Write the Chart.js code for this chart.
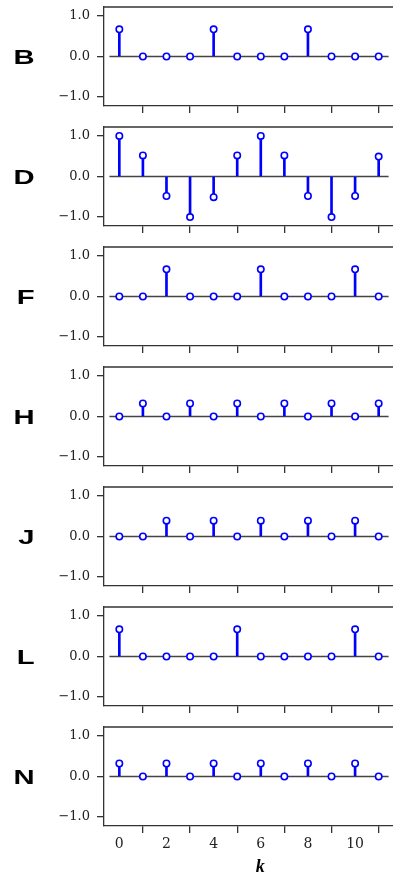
<!DOCTYPE html>
<html>
<head>
<meta charset="utf-8">
<script src="https://cdn.jsdelivr.net/npm/chart.js@4.4.1/dist/chart.umd.min.js"></script>
<style>
  html, body { margin: 0; padding: 0; background: #ffffff; overflow: hidden; }
  #fig { position: relative; width: 393px; height: 878px; overflow: hidden; background: #fff; }
  .panel { position: absolute; left: 0; width: 422px; }
</style>
</head>
<body>
<div id="fig"></div>
<script>
// ---- data ----
const kValues = [0, 1, 2, 3, 4, 5, 6, 7, 8, 9, 10, 11];
const panelLabels = ["B", "D", "F", "H", "J", "L", "N"];
const seriesB = [0.67, 0, 0, 0, 0.67, 0, 0, 0, 0.67, 0, 0, 0];
const seriesD = [1.0, 0.52, -0.48, -1.0, -0.51, 0.52, 1.0, 0.52, -0.48, -1.0, -0.48, 0.49];
const seriesF = [0, 0, 0.67, 0, 0, 0, 0.67, 0, 0, 0, 0.67, 0];
const seriesH = [0, 0.32, 0, 0.32, 0, 0.32, 0, 0.32, 0, 0.32, 0, 0.32];
const seriesJ = [0, 0, 0.39, 0, 0.39, 0, 0.39, 0, 0.39, 0, 0.39, 0];
const seriesL = [0.67, 0, 0, 0, 0, 0.67, 0, 0, 0, 0, 0.67, 0];
const seriesN = [0.32, 0, 0.32, 0, 0.32, 0, 0.32, 0, 0.32, 0, 0.32, 0];
const xTicks = [0, 2, 4, 6, 8, 10, 12];
const yTicks = [-1, 0, 1];
const baselineX = [-0.42, 11.42];
const xLabel = "k";

const allSeries = [seriesB, seriesD, seriesF, seriesH, seriesJ, seriesL, seriesN];

// ---- style ----
const STEM = "#0000ff";
const AXIS = "#333333";
const fig = document.getElementById("fig");

const framePlugin = {
  id: "frameAndLabel",
  afterDraw(chart, args, opts) {
    const ctx = chart.ctx;
    const a = chart.chartArea;
    ctx.save();
    ctx.strokeStyle = AXIS;
    ctx.lineWidth = 1.3;
    ctx.beginPath();
    ctx.moveTo(a.left - 0.65, a.top);
    ctx.lineTo(a.right, a.top);
    ctx.stroke();
    // panel letter
    const y0 = chart.scales.y.getPixelForValue(0);
    ctx.translate(34.5, y0 + 7);
    ctx.scale(1.5, 1);
    ctx.fillStyle = "#000";
    ctx.font = "bold 19.5px 'Liberation Sans', Arial, sans-serif";
    ctx.textAlign = "right";
    ctx.textBaseline = "alphabetic";
    ctx.fillText(opts.letter, 0, 0);
    ctx.restore();
  }
};

allSeries.forEach((vals, i) => {
  const isLast = i === allSeries.length - 1;
  const wrap = document.createElement("div");
  wrap.className = "panel";
  wrap.style.top = (120 * i) + "px";
  wrap.style.height = (isLast ? 158 : 120) + "px";
  const cv = document.createElement("canvas");
  wrap.appendChild(cv);
  fig.appendChild(wrap);

  const pts = kValues.map((k, j) => ({ x: k, y: vals[j] }));

  new Chart(cv, {
    type: "bar",
    data: {
      datasets: [
        {
          type: "scatter",
          data: pts,
          pointRadius: 3.2,
          pointBorderWidth: 1.6,
          pointBackgroundColor: "#ffffff",
          pointBorderColor: STEM,
          order: 0
        },
        {
          type: "bar",
          data: pts,
          backgroundColor: STEM,
          borderWidth: 0,
          barThickness: 2,
          order: 1
        },
        {
          type: "line",
          data: baselineX.map(x => ({ x: x, y: 0 })),
          borderColor: "#444444",
          borderWidth: 1.3,
          pointRadius: 0,
          order: 2
        }
      ]
    },
    plugins: [framePlugin],
    options: {
      responsive: true,
      maintainAspectRatio: false,
      animation: false,
      events: [],
      layout: { padding: { top: 7, left: 0, right: 0, bottom: 0 } },
      plugins: {
        legend: { display: false },
        tooltip: { enabled: false },
        frameAndLabel: { letter: panelLabels[i] }
      },
      scales: {
        x: {
          type: "linear",
          min: -0.65,
          max: 12.6,
          offset: false,
          afterBuildTicks: s => { s.ticks = xTicks.map(v => ({ value: v })); },
          afterFit: s => { s.height = isLast ? 52 : 14; s.paddingLeft = 0; s.paddingRight = 0; },
          grid: { display: true, drawOnChartArea: false, drawTicks: true, tickLength: 7, color: AXIS, lineWidth: 1.3 },
          border: { display: true, color: AXIS, width: 1.3 },
          ticks: {
            display: isLast,
            padding: 3,
            color: "#222",
            font: { family: "'DejaVu Serif', serif", size: 14 },
            maxRotation: 0,
            autoSkip: false,
            callback: v => String(v)
          },
          title: {
            display: isLast,
            text: xLabel,
            color: "#000",
            font: { family: "'Liberation Serif', serif", size: 18, style: "italic", weight: "bold" },
            padding: { top: 0, bottom: 0 }
          }
        },
        y: {
          min: -1.22,
          max: 1.22,
          afterBuildTicks: s => { s.ticks = yTicks.map(v => ({ value: v })); },
          afterFit: s => { s.width = 104; s.paddingTop = 0; s.paddingBottom = 0; },
          grid: { display: true, drawOnChartArea: false, drawTicks: true, tickLength: 7, color: AXIS, lineWidth: 1.3 },
          border: { display: true, color: AXIS, width: 1.3 },
          ticks: {
            padding: 7,
            color: "#222",
            font: { family: "'DejaVu Serif', serif", size: 13 },
            callback: v => (v < 0 ? "\u2212" : "") + Math.abs(v).toFixed(1)
          }
        }
      }
    }
  });
});
</script>
</body>
</html>
